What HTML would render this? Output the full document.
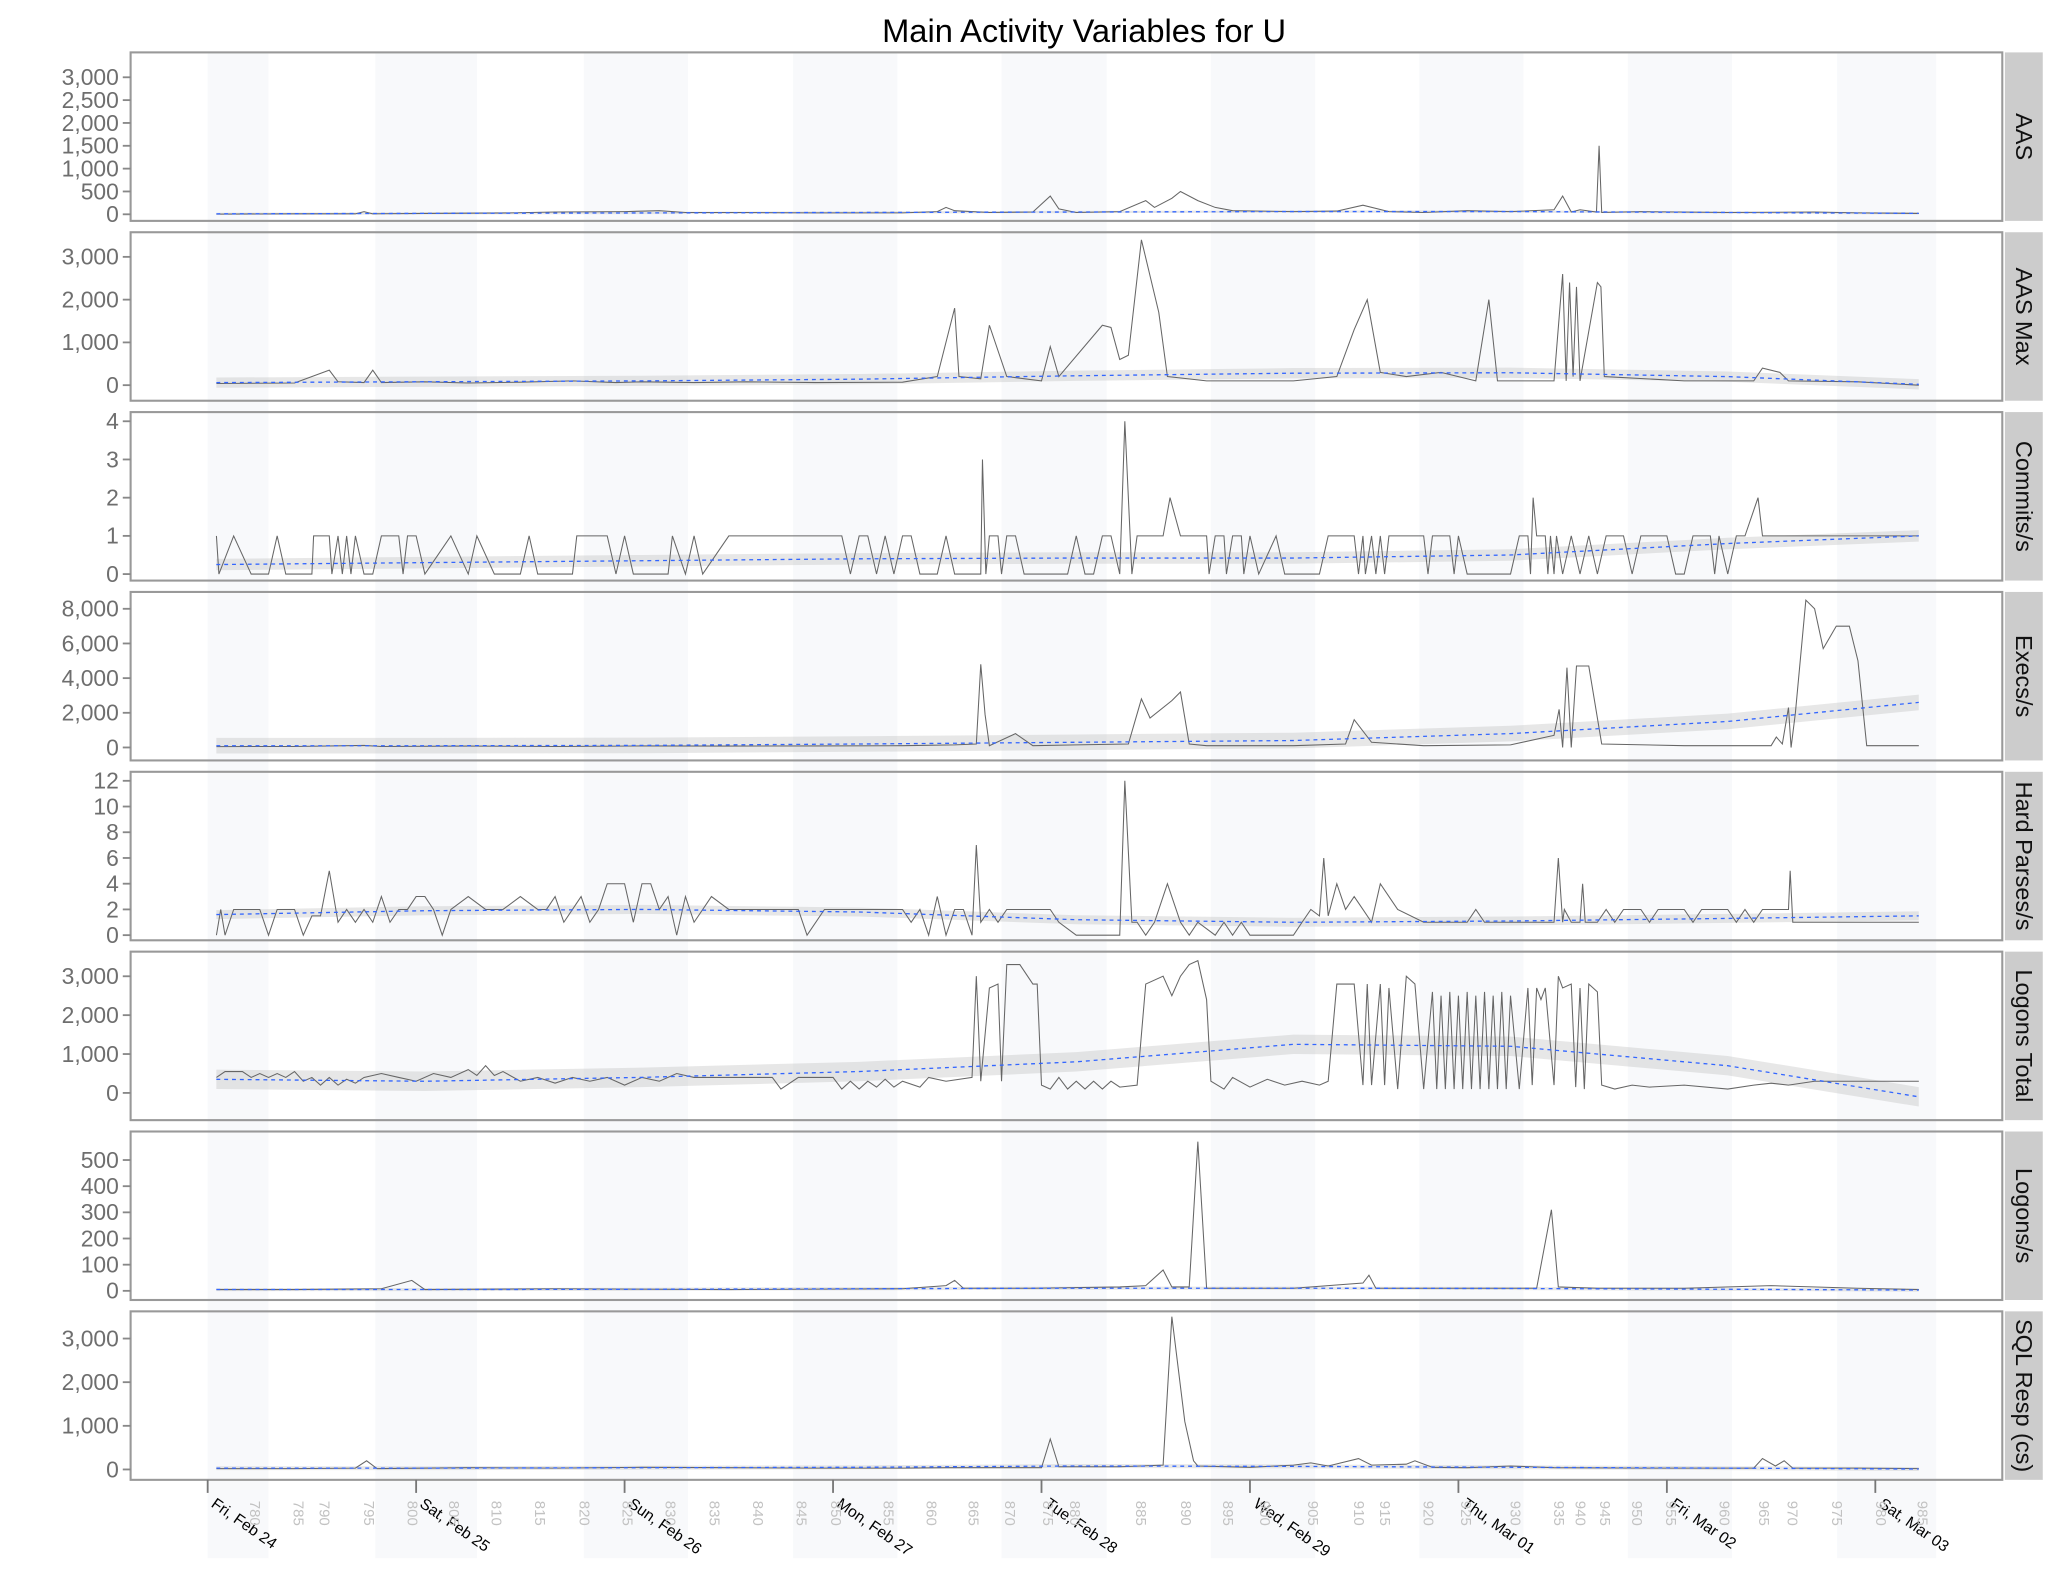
<!DOCTYPE html>
<html><head><meta charset="utf-8">
<style>
html,body{margin:0;padding:0;background:#fff;}
svg{display:block;font-family:"Liberation Sans",sans-serif;}
</style></head>
<body>
<svg id="chart" width="2048" height="1582" viewBox="0 0 1568 1211" xmlns="http://www.w3.org/2000/svg">
<text x="830" y="32" text-anchor="middle" font-size="25" fill="#000">Main Activity Variables for U</text>
<g id="bands"></g>
<g id="panels"></g>
<g id="xaxis"></g>
</svg>
<script>
// ---- data ----
const panelNames = ["AAS","AAS Max","Commits/s","Execs/s","Hard Parses/s","Logons Total","Logons/s","SQL Resp (cs)"];
const yTicks = [[0,500,1000,1500,2000,2500,3000],[0,1000,2000,3000],[0,1,2,3,4],[0,2000,4000,6000,8000],[0,2,4,6,8,10,12],[0,1000,2000,3000],[0,100,200,300,400,500],[0,1000,2000,3000]];
const yDomains = [[-144,3545],[-364,3576],[-0.17,4.24],[-748,8972],[-0.4,12.7],[-700,3633],[-35,609],[-238,3623]];
const dayLabels = ["Fri, Feb 24","Sat, Feb 25","Sun, Feb 26","Mon, Feb 27","Tue, Feb 28","Wed, Feb 29","Thu, Mar 01","Fri, Mar 02","Sat, Mar 03"];
const dayHours = [0,24,48,72,96,120,144,168,192];
const idxLabels = [780,785,790,795,800,805,810,815,820,825,830,835,840,845,850,855,860,865,870,875,880,885,890,895,900,905,910,915,920,925,930,935,940,945,950,955,960,965,970,975,980,985];
const idxHours = [5.4,10.4,13.4,18.5,23.5,28.3,33.2,38.2,43.3,48.3,53.2,58.3,63.3,68.3,72.3,78.3,83.3,88.1,92.3,96.7,99.8,107.4,112.6,117.4,121.7,127.2,132.5,135.5,140.5,144.8,150.5,155.5,158,160.8,164.5,168.4,174.6,179.1,182.4,187.5,192.6,197.4];
const bandStart = [0,19.3,43.3,67.4,91.4,115.5,139.5,163.5,187.6];
const bandEnd = [7,31,55.3,79.4,103.5,127.5,151.5,175.5,199];

const aasPts = [[1,5],[10,10],[17,10],[18,60],[19,10],[25,20],[35,30],[40,50],[48,60],[52,80],[55,40],[62,40],[70,30],[80,30],[84,60],[85,150],[86,80],[90,40],[95,50],[97,400],[98,120],[100,40],[105,60],[108,300],[109,150],[111,350],[112,500],[114,300],[116,150],[118,80],[125,60],[130,70],[133,200],[136,60],[140,40],[145,80],[150,60],[155,100],[156,400],[157,50],[158,100],[159.9,50],[160.2,1500],[160.5,40],[165,60],[175,40],[185,50],[190,30],[197,20]];
const aasMaxPts = [[1,40],[10,50],[14,350],[15,80],[18,60],[19,350],[20,60],[25,80],[30,50],[36,70],[42,100],[47,60],[50,80],[56,60],[62,80],[70,60],[80,70],[84,200],[86,1800],[86.5,200],[89,150],[90,1400],[92,200],[96,100],[97,900],[98,200],[103,1400],[104,1350],[105,600],[106,700],[107.5,3400],[109.5,1700],[110.5,200],[115,100],[125,100],[130,200],[132,1300],[133.5,2000],[135,300],[138,200],[142,300],[146,100],[147.5,2000],[148.5,100],[155,100],[156,2600],[156.4,100],[156.8,2400],[157.2,200],[157.6,2300],[158,100],[160,2400],[160.4,2300],[160.8,200],[170,100],[178,100],[179,400],[181,300],[182,100],[190,80],[197,0]];
const commitPts = [[1,1],[1.3,0],[3,1],[5,0],[7,0],[8,1],[9,0],[12,0],[12.2,1],[14,1],[14.3,0],[15,1],[15.5,0],[16,1],[16.5,0],[17,1],[18,0],[19,0],[20,1],[22,1],[22.5,0],[23,1],[24,1],[25,0],[28,1],[30,0],[31,1],[33,0],[36,0],[37,1],[38,0],[42,0],[42.5,1],[46,1],[47,0],[48,1],[49,0],[53,0],[53.5,1],[55,0],[56,1],[57,0],[60,1],[73,1],[74,0],[75,1],[76,1],[77,0],[78,1],[79,0],[80,1],[81,1],[82,0],[84,0],[85,1],[86,0],[89,0],[89.2,3],[89.6,0],[90,1],[91,1],[91.4,0],[92,1],[93,1],[94,0],[99,0],[100,1],[101,0],[102,0],[103,1],[104,1],[105,0],[105.6,4],[106.4,0],[107,1],[110,1],[110.8,2],[112,1],[115,1],[115.3,0],[116,1],[117,1],[117.3,0],[118,1],[119,1],[119.3,0],[120,1],[121,0],[123,1],[124,0],[128,0],[129,1],[132,1],[132.5,0],[133,1],[133.3,0],[134,1],[134.5,0],[135,1],[135.5,0],[136,1],[140,1],[140.5,0],[141,1],[143,1],[143.5,0],[144,1],[145,0],[150,0],[151,1],[152,1],[152.3,0],[152.6,2],[153,1],[154,1],[154.3,0],[154.6,1],[155,0],[155.3,1],[156,0],[157,1],[158,0],[159,1],[160,0],[161,1],[163,1],[164,0],[165,1],[168,1],[169,0],[170,0],[171,1],[173,1],[173.5,0],[174,1],[175,0],[176,1],[177,1],[178.5,2],[179,1],[197,1]];
const execPts = [[1,50],[10,60],[18,120],[20,60],[30,80],[40,60],[50,90],[60,80],[70,90],[80,100],[86,150],[88.5,200],[89,4800],[89.5,1900],[90,100],[93,800],[95,100],[100,150],[106,200],[107.5,2800],[108.5,1700],[111,2700],[112,3200],[113,200],[115,100],[125,100],[131,200],[132,1600],[134,300],[140,100],[150,150],[155,700],[155.6,2200],[156,0],[156.5,4600],[157,0],[157.6,4700],[159,4700],[160.5,200],[170,100],[180,100],[180.6,600],[181.3,200],[182,2300],[182.3,0],[182.8,2000],[184,8500],[185,8000],[186,5700],[187.5,7000],[189,7000],[190,5000],[191,100],[197,100]];
const hardPts = [[1,0],[1.5,2],[2,0],[3,2],[6,2],[7,0],[8,2],[10,2],[11,0],[12,1.5],[13,1.5],[14,5],[15,1],[16,2],[17,1],[18,2],[19,1],[20,3],[21,1],[22,2],[23,2],[24,3],[25,3],[26,2],[27,0],[28,2],[30,3],[32,2],[34,2],[36,3],[38,2],[39,2],[40,3],[41,1],[42,2],[43,3],[44,1],[45,2],[46,4],[48,4],[49,1],[50,4],[51,4],[52,2],[53,3],[54,0],[55,3],[56,1],[58,3],[60,2],[68,2],[69,0],[71,2],[80,2],[81,1],[82,2],[83,0],[84,3],[85,0],[86,2],[87,2],[88,0],[88.5,7],[89,1],[90,2],[91,1],[92,2],[97,2],[98,1],[100,0],[105,0],[105.6,12],[106.4,1],[107,1],[108,0],[109,1],[110.5,4],[112,1],[113,0],[114,1],[116,0],[117,1],[118,0],[119,1],[120,0],[125,0],[126,1],[127,2],[128,1.5],[128.5,6],[129,1.5],[130,4],[131,2],[132,3],[133,2],[134,1],[135,4],[137,2],[140,1],[145,1],[146,2],[147,1],[155,1],[155.5,6],[156,1],[156.2,2],[157,1],[158,1],[158.3,4],[158.6,1],[160,1],[161,2],[162,1],[163,2],[165,2],[166,1],[167,2],[170,2],[171,1],[172,2],[175,2],[176,1],[177,2],[178,1],[179,2],[180,2],[182,2],[182.2,5],[182.5,1],[197,1]];
const logonTotPts = [[1,400],[2,550],[4,550],[5,400],[6,500],[7,400],[8,500],[9,400],[10,550],[11,300],[12,400],[13,200],[14,400],[15,200],[16,350],[17,250],[18,400],[20,500],[22,400],[24,300],[26,500],[28,400],[30,600],[31,450],[32,700],[33,450],[34,550],[36,300],[38,400],[40,250],[42,400],[44,300],[46,400],[48,200],[50,400],[52,300],[54,500],[56,400],[62,400],[65,400],[66,100],[68,400],[72,400],[73,100],[74,300],[75,100],[76,300],[77,150],[78,350],[79,150],[80,300],[82,150],[83,400],[85,300],[88,400],[88.5,3000],[89,300],[90,2700],[91,2800],[91.4,300],[92,3300],[93.5,3300],[95,2800],[95.5,2800],[96,200],[97,100],[98,400],[99,100],[100,300],[101,100],[102,300],[103,100],[104,300],[105,150],[107,200],[108,2800],[110,3000],[111,2500],[112,3000],[113,3300],[114,3400],[115,2400],[115.5,300],[117,100],[118,400],[120,150],[122,350],[124,200],[126,300],[128,200],[129,300],[130,2800],[132,2800],[133,200],[133.5,2800],[134,200],[135,2800],[135.5,200],[136,2700],[137,100],[138,3000],[139,2800],[140,100],[141,2600],[141.5,100],[142,2500],[142.5,100],[143,2600],[143.5,100],[144,2500],[144.5,100],[145,2600],[145.5,100],[146,2500],[146.5,100],[147,2600],[147.5,100],[148,2500],[148.5,100],[149,2600],[149.5,100],[150,2500],[151,100],[152,2700],[152.5,200],[153,2700],[153.5,2400],[154,2700],[155,200],[155.5,3000],[156,2700],[157,2800],[157.5,150],[158,2700],[158.5,100],[159,2800],[160,2600],[160.5,200],[162,100],[164,200],[166,150],[170,200],[175,100],[178,200],[180,250],[182,200],[185,300],[190,300],[197,300]];
const logonsPts = [[1,5],[10,5],[20,8],[23.5,40],[25,5],[40,8],[60,5],[80,8],[85,20],[86,40],[87,10],[95,10],[105,15],[108,20],[110,80],[111,15],[113,15],[114,570],[115,10],[125,10],[133,30],[133.7,60],[134.5,10],[145,10],[153,10],[154.7,310],[155.5,15],[160,10],[170,10],[180,20],[190,10],[197,5]];
const sqlPts = [[1,20],[10,20],[17,30],[18.3,200],[19.5,20],[30,40],[40,30],[50,50],[60,40],[70,30],[80,30],[85,40],[96,40],[97,700],[98,60],[105,60],[110,100],[111,3500],[112.5,1100],[113.5,200],[114,80],[120,50],[125,100],[127,150],[129,80],[132.5,250],[134,100],[138,120],[139,200],[141,50],[145,40],[150,80],[155,40],[165,30],[178,30],[179,250],[180.5,80],[181.5,200],[182.5,30],[190,30],[197,20]];
const seriesPts = [aasPts,aasMaxPts,commitPts,execPts,hardPts,logonTotPts,logonsPts,sqlPts];

const trendHours = [1,25,50,75,100,125,150,175,197];
const trendAas = [10,20,30,40,50,60,60,40,20];
const trendAasMax = [60,80,100,140,220,280,290,200,20];
const trendCommits = [0.25,0.3,0.35,0.4,0.42,0.42,0.5,0.8,1.0];
const trendExecs = [100,100,120,200,300,400,800,1500,2600];
const trendHard = [1.6,1.9,2.0,1.8,1.2,1.0,1.1,1.3,1.5];
const trendLogonTot = [350,300,400,550,800,1250,1200,700,-100];
const trendLogons = [5,5,6,8,10,10,9,6,3];
const trendSql = [30,30,40,50,80,70,50,30,10];
const trends = [trendAas,trendAasMax,trendCommits,trendExecs,trendHard,trendLogonTot,trendLogons,trendSql];
const bandWidth = [25,120,0.15,450,0.35,250,6,45];

// ---- layout ----
const NS = "http://www.w3.org/2000/svg";
const L = 100, R = 1533, STRIPW = 29;
const TOP0 = 40, PH = 129, GAP = 8.7;
function xs(h){ return 159 + h*6.65; }
function panelTop(i){ return TOP0 + i*(PH+GAP); }
function ys(i,v){ const d=yDomains[i]; const t=panelTop(i); return t+PH - (v-d[0])/(d[1]-d[0])*PH; }
function mk(tag, attrs, parent){ const e=document.createElementNS(NS,tag); for(const k in attrs) e.setAttribute(k,attrs[k]); parent.appendChild(e); return e; }
function fmt(v){ return v.toLocaleString("en-US"); }

const bandsG = document.getElementById("bands");
const panelsG = document.getElementById("panels");
const xG = document.getElementById("xaxis");
const lastBottom = panelTop(7)+PH;

for(let b=0;b<bandStart.length;b++){
  const r = mk("rect",{x:xs(bandStart[b]),y:TOP0,width:xs(bandEnd[b])-xs(bandStart[b]),height:lastBottom+60-TOP0,fill:"#f8f9fb"},bandsG);
  
  
}

for(let i=0;i<8;i++){
  const t = panelTop(i);
  const g = mk("g",{},panelsG);
  
  
  let up="", dn="";
  trendHours.forEach((h,k)=>{ up += (k?"L":"M")+xs(h)+","+ys(i,trends[i][k]+bandWidth[i]); });
  for(let k=trendHours.length-1;k>=0;k--){ dn += "L"+xs(trendHours[k])+","+ys(i,trends[i][k]-bandWidth[i]); }
  const ci = mk("path",{d:up+dn+"Z",fill:"#bbb","fill-opacity":0.35,stroke:"none"},g);
  
  
  const pts = seriesPts[i];
  let d = "";
  pts.forEach((p,k)=>{ d += (k?"L":"M")+xs(p[0]).toFixed(1)+","+ys(i,p[1]).toFixed(1); });
  const ln = mk("path",{d:d,fill:"none",stroke:"#666","stroke-width":0.8},g);
  
  
  let td="";
  trendHours.forEach((h,k)=>{ td += (k?"L":"M")+xs(h)+","+ys(i,trends[i][k]); });
  const tl = mk("path",{d:td,fill:"none",stroke:"#3366ff","stroke-width":1,"stroke-dasharray":"3,3"},g);
  
  
  const fr = mk("rect",{x:L,y:t,width:R-L,height:PH,fill:"none",stroke:"#999","stroke-width":1.6},g);
  
  
  const st = mk("rect",{x:R+2,y:t,width:STRIPW,height:PH,fill:"#cccccc"},g);
  
  
  const sx = R+2+STRIPW/2, sy = t+PH/2;
  const stx = mk("text",{x:sx,y:sy,"text-anchor":"middle","dominant-baseline":"central","font-size":18,fill:"#111",transform:"rotate(90 "+sx+" "+sy+")"},g);
  stx.textContent = panelNames[i];
  
  
  yTicks[i].forEach(v=>{
    const y = ys(i,v);
    const tk = mk("line",{x1:L-6,x2:L,y1:y,y2:y,stroke:"#888","stroke-width":1.4},g);
    
    
    const lb = mk("text",{x:L-9,y:y+6,"text-anchor":"end","font-size":17.5,fill:"#6e6e6e"},g);
    lb.textContent = fmt(v);
    
    
  });
}

dayHours.forEach((h,k)=>{
  const x = xs(h);
  const tk = mk("line",{x1:x,x2:x,y1:lastBottom,y2:lastBottom+10,stroke:"#777","stroke-width":1.4},xG);
  
  
  const lb = mk("text",{x:x+2,y:lastBottom+20,"font-size":12,fill:"#000",transform:"rotate(35 "+(x+2)+" "+(lastBottom+20)+")"},xG);
  lb.textContent = dayLabels[k];
  
  
});
idxHours.forEach((h,k)=>{
  const x = xs(h), y = lastBottom+16;
  const lb = mk("text",{x:x,y:y,"font-size":11.5,fill:"#c2c2c2","dominant-baseline":"central",transform:"rotate(90 "+x+" "+y+")"},xG);
  lb.textContent = idxLabels[k];
  
  
});
</script>
</body></html>
